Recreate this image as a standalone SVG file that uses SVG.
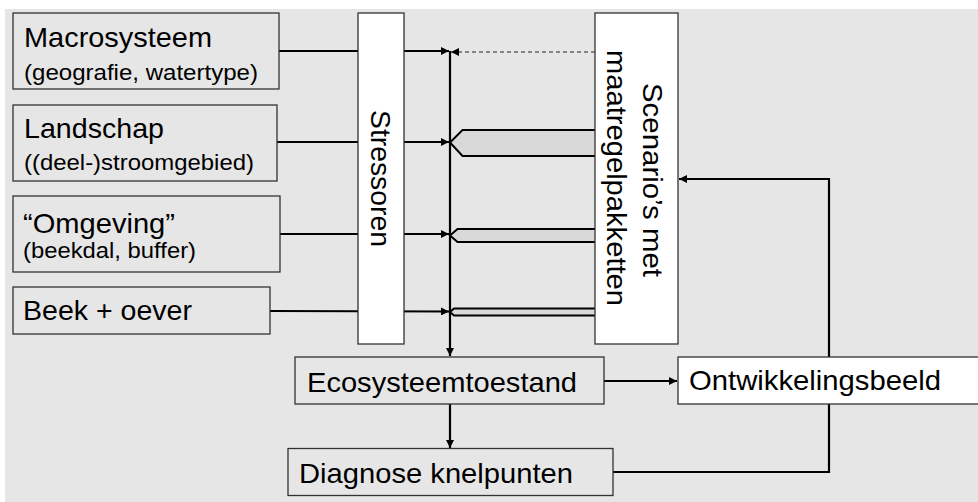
<svg xmlns="http://www.w3.org/2000/svg" width="978" height="502" viewBox="0 0 978 502">
<defs>
<style>
.bg{fill:#e6e6e6}
.box{fill:#e6e6e6;stroke:#333;stroke-width:1.3}
.wbox{fill:#fff;stroke:#333;stroke-width:1.3}
.ln{fill:none;stroke:#000;stroke-width:2.2}
.dash{fill:none;stroke:#222;stroke-width:1.2;stroke-dasharray:4 3}
.blk{fill:#d9d9d9;stroke:#000;stroke-width:2;stroke-linejoin:miter}
.t{font-family:"Liberation Sans",Arial,sans-serif;font-size:28px;fill:#000}
.s{font-family:"Liberation Sans",Arial,sans-serif;font-size:22px;fill:#000}
</style>
<marker id="ah" viewBox="0 0 10 10" refX="10" refY="5" markerWidth="9" markerHeight="8" markerUnits="userSpaceOnUse" orient="auto">
<path d="M0,0 L10,5 L0,10 Z" fill="#000"/>
</marker>
</defs>
<rect class="bg" x="5" y="9" width="973" height="493"/>
<g id="connectors">
<line class="ln" x1="279" y1="51" x2="449" y2="51" marker-end="url(#ah)"/>
<line class="ln" x1="277" y1="142" x2="449" y2="142" marker-end="url(#ah)"/>
<line class="ln" x1="280" y1="234" x2="449" y2="234" marker-end="url(#ah)"/>
<line class="ln" x1="270" y1="311" x2="449" y2="311.5" marker-end="url(#ah)"/>
<line class="dash" x1="595" y1="52" x2="451" y2="52" marker-end="url(#ah)"/>
<line class="ln" x1="450" y1="51" x2="450" y2="356" marker-end="url(#ah)"/>
<polygon class="blk" points="596,130 462.5,130 450,142.5 462.5,156 596,156"/>
<polygon class="blk" points="596,229 457.5,229 450,235.5 457.5,242 596,242"/>
<polygon class="blk" points="596,308.5 454,308.5 450,312 454,315.5 596,315.5"/>
<line class="ln" x1="450" y1="404" x2="450" y2="448" marker-end="url(#ah)"/>
<line class="ln" x1="604" y1="381" x2="677" y2="381" marker-end="url(#ah)"/>
<polyline class="ln" points="613,472 829,472 829,179 679,179" marker-end="url(#ah)"/>
</g>
<g id="macrosysteem">
<rect class="box" x="13" y="13" width="266" height="76"/>
<text class="t" x="24" y="47" textLength="188" lengthAdjust="spacingAndGlyphs">Macrosysteem</text>
<text class="s" x="24" y="80" textLength="234" lengthAdjust="spacingAndGlyphs">(geografie, watertype)</text>
</g>
<g id="landschap">
<rect class="box" x="13" y="105" width="264" height="76"/>
<text class="t" x="24" y="138" textLength="140" lengthAdjust="spacingAndGlyphs">Landschap</text>
<text class="s" x="24" y="170" textLength="230" lengthAdjust="spacingAndGlyphs">((deel-)stroomgebied)</text>
</g>
<g id="omgeving">
<rect class="box" x="13" y="196" width="267" height="76"/>
<text class="t" x="23" y="233" textLength="152" lengthAdjust="spacingAndGlyphs">“Omgeving”</text>
<text class="s" x="23" y="258" textLength="173" lengthAdjust="spacingAndGlyphs">(beekdal, buffer)</text>
</g>
<g id="beek">
<rect class="box" x="13" y="287" width="257" height="47"/>
<text class="t" x="23" y="320" textLength="169" lengthAdjust="spacingAndGlyphs">Beek + oever</text>
</g>
<g id="stressoren">
<rect class="wbox" x="358" y="13" width="46" height="331"/>
<text class="t" text-anchor="middle" transform="translate(371,178.5) rotate(90)" textLength="137" lengthAdjust="spacingAndGlyphs">Stressoren</text>
</g>
<g id="scenarios">
<rect class="wbox" x="595" y="13" width="83" height="331"/>
<text class="t" text-anchor="middle" transform="translate(643,180) rotate(90)" textLength="194" lengthAdjust="spacingAndGlyphs">Scenario’s met</text>
<text class="t" text-anchor="middle" transform="translate(607,178) rotate(90)" textLength="256" lengthAdjust="spacingAndGlyphs">maatregelpakketten</text>
</g>
<g id="ecosysteemtoestand">
<rect class="box" x="295" y="357" width="309" height="47"/>
<text class="t" x="307" y="392" textLength="270" lengthAdjust="spacingAndGlyphs">Ecosysteemtoestand</text>
</g>
<g id="diagnose">
<rect class="box" x="288" y="448.5" width="325" height="47"/>
<text class="t" x="299" y="483" textLength="274" lengthAdjust="spacingAndGlyphs">Diagnose knelpunten</text>
</g>
<g id="ontwikkelingsbeeld">
<rect class="wbox" x="678" y="357" width="310" height="47"/>
<text class="t" x="689" y="390" textLength="252" lengthAdjust="spacingAndGlyphs">Ontwikkelingsbeeld</text>
</g>
</svg>
